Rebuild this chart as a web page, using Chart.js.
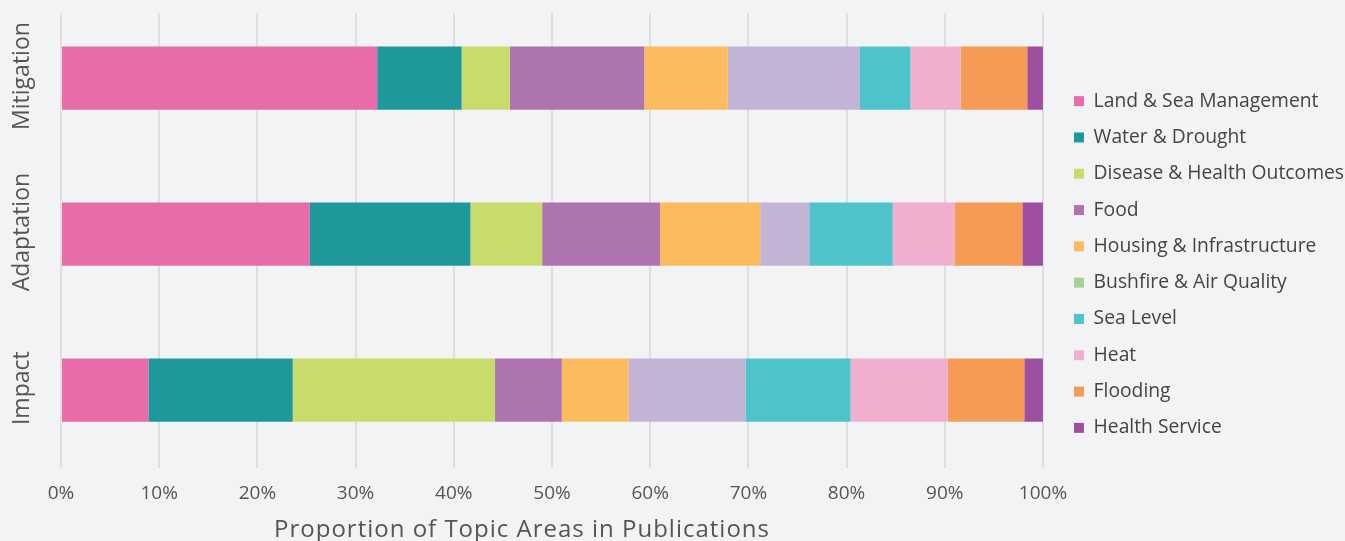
<!DOCTYPE html>
<html>
<head>
<meta charset="utf-8">
<script src="https://cdn.jsdelivr.net/npm/chart.js@4"></script>
<style>
  body { margin: 0; background: #f2f3f5; }
  #wrap { width: 1345px; height: 541px; position: relative; }
</style>
</head>
<body>
<div id="wrap"><canvas id="myChart"></canvas></div>
<script>
var categorias = ['Mitigation', 'Adaptation', 'Impact'];
var temas = ['Land & Sea Management', 'Water & Drought', 'Disease & Health Outcomes', 'Food',
  'Housing & Infrastructure', 'Bushfire & Air Quality', 'Sea Level', 'Heat', 'Flooding', 'Health Service'];
var tituloX = 'Proportion of Topic Areas in Publications';

// porcentajes por tema: [Mitigation, Adaptation, Impact]
var landSea = [32.2, 25.3, 8.9];
var waterDrought = [8.6, 16.4, 14.7];
var disease = [4.9, 7.3, 20.6];
var food = [13.7, 12.0, 6.8];
var housing = [8.5, 10.2, 6.8];
var bushfire = [13.4, 5.0, 11.9];
var seaLevel = [5.2, 8.5, 10.7];
var heat = [5.1, 6.3, 9.9];
var flooding = [6.8, 6.9, 7.8];
var healthService = [1.6, 2.1, 1.9];

var colores = ['#e96ba8', '#1e989b', '#c8dc6b', '#ae74b0', '#fcbb5c', '#c3b3d5', '#4ec3cc', '#f1afcf', '#f69b55', '#9e4f9f'];
var valores = [landSea, waterDrought, disease, food, housing, bushfire, seaLevel, heat, flooding, healthService];

var fuente = "'Open Sans', sans-serif";
var gris = '#555555';

var datasets = temas.map(function (t, i) {
  return { label: t, data: valores[i], backgroundColor: colores[i], borderWidth: 0 };
});

// tapa la parte de arriba de las lineas de la grilla
var tapaGrilla = {
  id: 'tapaGrilla',
  beforeDatasetsDraw: function (chart) {
    var c = chart.ctx, a = chart.chartArea;
    c.save();
    c.fillStyle = '#f2f3f5';
    c.fillRect(a.left - 3, 0, a.right - a.left + 6, 13);
    c.restore();
  }
};

// mas espacio entre el grafico y la leyenda
var correrLeyenda = {
  id: 'correrLeyenda',
  beforeLayout: function (chart) {
    var lg = chart.legend;
    if (lg && !lg._ajustada) {
      var fit = lg.fit;
      lg.fit = function () { fit.call(this); this.width += 5; };
      lg._ajustada = true;
    }
  },
  afterLayout: function (chart) {
    if (chart.legend) chart.legend.left += 14;
  }
};

// etiquetas verticales del eje y + titulo del eje x
var textos = {
  id: 'textos',
  afterDraw: function (chart) {
    var c = chart.ctx, y = chart.scales.y;
    c.save();
    c.fillStyle = gris;
    c.font = "23px " + fuente;
    c.textAlign = 'center';
    c.textBaseline = 'middle';
    categorias.forEach(function (cat, i) {
      c.save();
      c.translate(22, y.getPixelForValue(i) - 2);
      c.rotate(-Math.PI / 2);
      c.fillText(cat, 0, 0);
      c.restore();
    });
    c.font = "24px " + fuente;
    c.letterSpacing = '1px';
    c.textBaseline = 'alphabetic';
    c.fillText(tituloX, 522, 537);
    c.restore();
  }
};

var ctx = document.getElementById('myChart').getContext('2d');
var chart = new Chart(ctx, {
  type: 'bar',
  data: { labels: categorias, datasets: datasets },
  plugins: [tapaGrilla, correrLeyenda, textos],
  options: {
    indexAxis: 'y',
    responsive: true,
    maintainAspectRatio: false,
    animation: false,
    layout: { padding: { top: 0, right: 0, bottom: 12, left: 0 } },
    datasets: { bar: { barPercentage: 0.405, categoryPercentage: 1.0 } },
    scales: {
      x: {
        stacked: true,
        min: 0,
        max: 100,
        border: { display: false },
        grid: { color: '#dedede', lineWidth: 2, drawTicks: false },
        ticks: {
          stepSize: 10,
          padding: 14,
          color: gris,
          font: { family: fuente, size: 19 },
          callback: function (v) { return v + '%'; }
        },
        afterFit: function (scale) { scale.height += 10; }
      },
      y: {
        stacked: true,
        border: { display: false },
        grid: { display: false },
        ticks: { display: false },
        afterFit: function (scale) { scale.width = 61; }
      }
    },
    plugins: {
      tooltip: { enabled: false },
      legend: {
        position: 'right',
        labels: {
          boxWidth: 10,
          boxHeight: 10,
          padding: 17,
          color: '#444444',
          font: { family: fuente, size: 19.3 },
          generateLabels: function (chart) {
            var items = Chart.defaults.plugins.legend.labels.generateLabels(chart);
            // en la referencia el cuadro de Bushfire sale verde
            items[5].fillStyle = '#a8d19a';
            return items;
          }
        }
      }
    }
  }
});
</script>
</body>
</html>
